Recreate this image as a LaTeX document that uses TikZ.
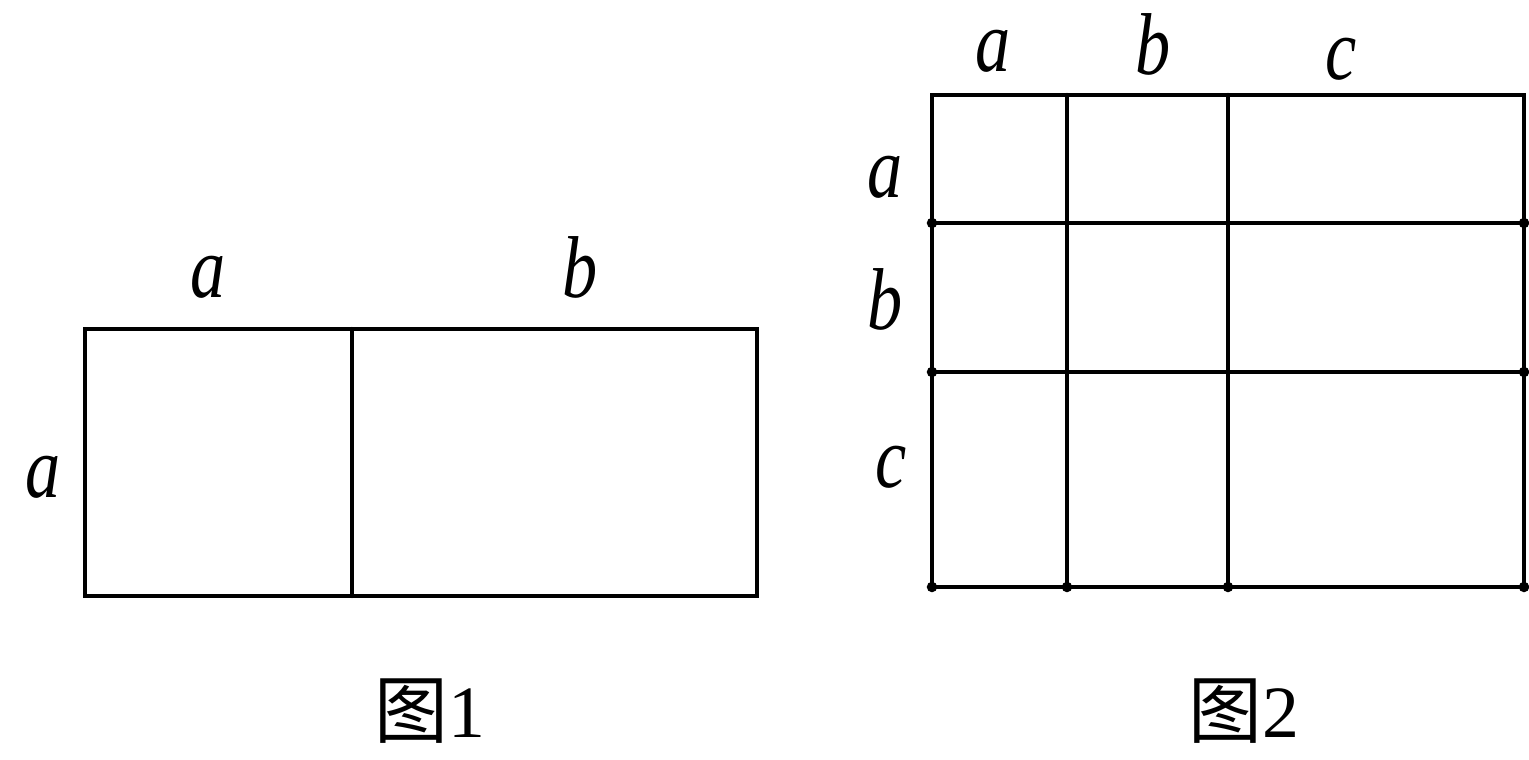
\documentclass[tikz,border=0pt]{standalone}
\usepackage{fontspec}
\setmainfont{Liberation Serif}
\newfontfamily\cjk{Noto Sans CJK SC}
\begin{document}
\begin{tikzpicture}[x=0.02cm,y=-0.02cm,
  edge/.style={line width=2.4pt,line cap=round,line join=miter},
  lbl/.style={anchor=base,inner sep=0pt,font=\fontsize{40}{40}\selectfont\itshape},
  capt/.style={anchor=base,inner sep=0pt,font=\fontsize{42}{42}\selectfont}]
\useasboundingbox (0,0) rectangle (1529,760);
% ---- Figure 1 ----
\coordinate (A1) at (85,329);
\coordinate (A2) at (757,596);
\draw[edge] (A1) rectangle (A2);
\coordinate (D1) at (352,329);
\coordinate (D2) at (352,596);
\draw[edge] (D1) -- (D2);
\node[lbl] (f1a) at (208,298) {\scalebox{1}[1.25]{a}};
\node[lbl] (f1b) at (580,298) {\scalebox{1}[1.25]{b}};
\node[lbl] (f1l) at (43,497) {\scalebox{1}[1.25]{a}};
\node[capt] (c1) at (430,737) {{\cjk 图}1};
% ---- Figure 2 ----
\coordinate (B1) at (932,95);
\coordinate (B2) at (1524,587);
\draw[edge] (B1) rectangle (B2);
\foreach \x/\n in {1067/v1,1228/v2}{
  \coordinate (\n t) at (\x,95);
  \coordinate (\n b) at (\x,587);
  \draw[edge] (\n t) -- (\n b);
}
\foreach \y/\n in {223/h1,372/h2}{
  \coordinate (\n l) at (932,\y);
  \coordinate (\n r) at (1524,\y);
  \draw[edge] (\n l) -- (\n r);
}
\foreach \p in {(932,223),(932,372),(932,587),(1067,587),(1228,587),(1524,587),(1524,223),(1524,372)}
  \fill \p circle (3pt);
\node[lbl] (f2a) at (993,72) {\scalebox{1}[1.25]{a}};
\node[lbl] (f2b) at (1153,75) {\scalebox{1}[1.25]{b}};
\node[lbl] (f2c) at (1341,80) {\scalebox{1}[1.25]{c}};
\node[lbl] (f2la) at (885,198) {\scalebox{1}[1.25]{a}};
\node[lbl] (f2lb) at (885,330) {\scalebox{1}[1.25]{b}};
\node[lbl] (f2lc) at (891,487) {\scalebox{1}[1.25]{c}};
\node[capt] (c2) at (1244,737) {{\cjk 图}2};
\end{tikzpicture}
\end{document}
